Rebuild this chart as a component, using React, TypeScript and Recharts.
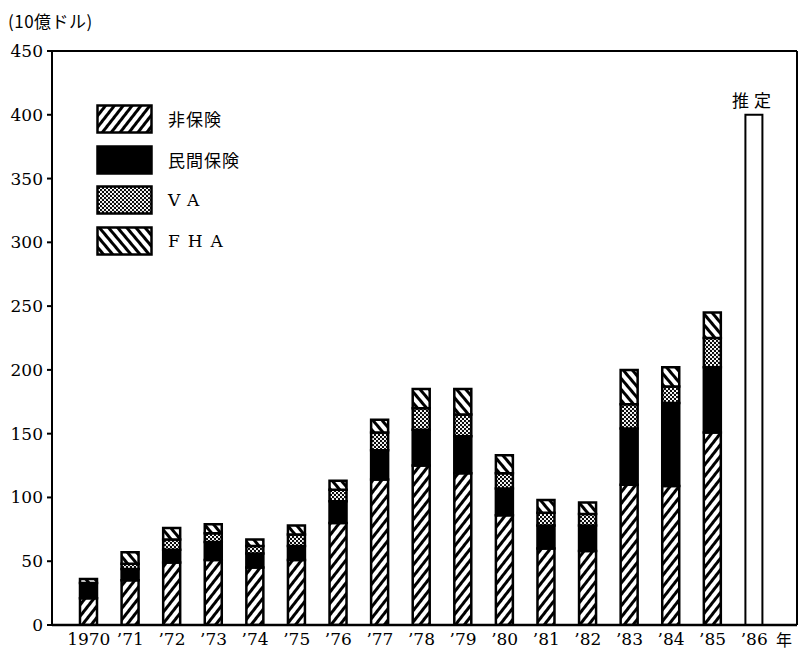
import React from 'react';
import { BarChart, Bar, XAxis, YAxis, ReferenceLine, LabelList } from 'recharts';

const years = ['1970', '’71', '’72', '’73', '’74', '’75', '’76', '’77', '’78', '’79', '’80', '’81', '’82', '’83', '’84', '’85', '’86'];
const nonInsured = [21, 35, 49, 51, 45, 51, 80, 114, 125, 119, 86, 60, 58, 110, 109, 151, null];
const privateInsured = [12, 9, 10, 14, 11, 11, 17, 23, 28, 29, 21, 18, 20, 44, 65, 51, null];
const vaLoans = [0, 4, 8, 7, 6, 9, 9, 14, 17, 17, 12, 10, 9, 19, 13, 23, null];
const fhaLoans = [3, 9, 9, 7, 5, 7, 7, 10, 15, 20, 14, 10, 9, 27, 15, 20, null];
const estimate = [null, null, null, null, null, null, null, null, null, null, null, null, null, null, null, null, 400];
const estimateLabels = [null, null, null, null, null, null, null, null, null, null, null, null, null, null, null, null, '推定'];
const yTicks = [0, 50, 100, 150, 200, 250, 300, 350, 400, 450];

const legendItems = [
  { label: '非保険', fill: 'url(#lg-hatchR)', serif: false },
  { label: '民間保険', fill: '#000', serif: false },
  { label: 'VA', fill: 'url(#lg-dots)', serif: true },
  { label: 'FHA', fill: 'url(#lg-hatchL)', serif: true },
];

const data = years.map((y, i) => ({
  year: y,
  nonInsured: nonInsured[i],
  privateInsured: privateInsured[i],
  va: vaLoans[i],
  fha: fhaLoans[i],
  estimate: estimate[i],
  estLabel: estimateLabels[i],
}));

const serif = '"DejaVu Serif", "Liberation Serif", serif';
const jp = '"Noto Sans CJK JP", "Noto Sans", sans-serif';

function Patterns({ prefix }: { prefix: string }) {
  return (
    <defs>
      <pattern id={`${prefix}hatchR`} patternUnits="userSpaceOnUse" width="7" height="7" patternTransform="rotate(38)">
        <rect width="7" height="7" fill="#fff" />
        <line x1="1.5" y1="0" x2="1.5" y2="7" stroke="#000" strokeWidth="3" />
      </pattern>
      <pattern id={`${prefix}hatchL`} patternUnits="userSpaceOnUse" width="7" height="7" patternTransform="rotate(-40)">
        <rect width="7" height="7" fill="#fff" />
        <line x1="1.5" y1="0" x2="1.5" y2="7" stroke="#000" strokeWidth="3" />
      </pattern>
      <pattern id={`${prefix}dots`} patternUnits="userSpaceOnUse" width="4" height="4">
        <rect width="4" height="4" fill="#fff" />
        <circle cx="1" cy="1" r="1.15" fill="#000" />
        <circle cx="3" cy="3" r="1.15" fill="#000" />
      </pattern>
    </defs>
  );
}

function LegendBox() {
  return (
    <div style={{ position: 'absolute', left: 96, top: 104 }}>
      <svg width="0" height="0" style={{ position: 'absolute' }}>
        <Patterns prefix="lg-" />
      </svg>
      {legendItems.map((it, i) => (
        <div key={it.label} style={{ position: 'absolute', left: 0, top: i * 40.5, width: 220, height: 32 }}>
          <svg width="58" height="32" style={{ position: 'absolute', left: 0, top: 0 }}>
            <rect x="1.5" y="1.5" width="54" height="27" fill={it.fill} stroke="#000" strokeWidth="2.5" />
          </svg>
          <div
            style={{
              position: 'absolute',
              left: 72,
              top: 4,
              fontFamily: it.serif ? serif : jp,
              fontSize: 17,
              letterSpacing: it.serif ? 8 : 1,
              lineHeight: '22px',
              color: '#000',
              whiteSpace: 'nowrap',
            }}
          >
            {it.label}
          </div>
        </div>
      ))}
    </div>
  );
}

export default function App() {
  return (
    <div style={{ position: 'absolute', left: 0, top: 0, width: 800, height: 650, background: '#fff', overflow: 'hidden' }}>
      <svg width="0" height="0" style={{ position: 'absolute' }}>
        <Patterns prefix="ch-" />
      </svg>
      <div style={{ position: 'absolute', left: 8, top: 8, fontFamily: jp, fontSize: 17, letterSpacing: 0.5, color: '#000', whiteSpace: 'nowrap' }}>
        (10億ドル)
      </div>
      <BarChart width={800} height={650} data={data} margin={{ top: 51, right: 3, bottom: 0, left: 0 }} barSize={17}>
        <XAxis
          dataKey="year"
          interval={0}
          tickLine={false}
          axisLine={{ stroke: '#000', strokeWidth: 2.5 }}
          tick={{ fill: '#000', fontSize: 17, fontFamily: serif }}
          height={25}
          padding={{ left: 16, right: 22 }}
          label={{ value: '年', position: 'insideRight', offset: 5, dy: 3, fill: '#000', fontSize: 16, fontFamily: jp }}
        />
        <YAxis
          domain={[0, 450]}
          ticks={yTicks}
          width={52}
          tickSize={5}
          tickMargin={4}
          axisLine={{ stroke: '#000', strokeWidth: 2 }}
          tickLine={{ stroke: '#000', strokeWidth: 2 }}
          tick={{ fill: '#000', fontSize: 17, fontFamily: serif }}
          allowDataOverflow
        />
        <YAxis
          yAxisId="right"
          orientation="right"
          domain={[0, 450]}
          ticks={yTicks}
          width={1}
          mirror
          tickSize={6}
          axisLine={{ stroke: '#000', strokeWidth: 2 }}
          tickLine={{ stroke: '#000', strokeWidth: 2 }}
          tick={() => <g />}
        />
        <ReferenceLine y={450} stroke="#000" strokeWidth={2} />
        <Bar dataKey="nonInsured" stackId="a" fill="url(#ch-hatchR)" stroke="#000" strokeWidth={2.5} isAnimationActive={false} />
        <Bar dataKey="privateInsured" stackId="a" fill="#000" stroke="#000" strokeWidth={2.5} isAnimationActive={false} />
        <Bar dataKey="va" stackId="a" fill="url(#ch-dots)" stroke="#000" strokeWidth={2.5} isAnimationActive={false} />
        <Bar dataKey="fha" stackId="a" fill="url(#ch-hatchL)" stroke="#000" strokeWidth={2.5} isAnimationActive={false} />
        <Bar dataKey="estimate" stackId="a" fill="#fff" stroke="#000" strokeWidth={2} isAnimationActive={false}>
          <LabelList dataKey="estLabel" position="top" offset={8} fill="#000" fontSize={17} fontFamily={jp} letterSpacing={5} />
        </Bar>
      </BarChart>
      <LegendBox />
    </div>
  );
}
